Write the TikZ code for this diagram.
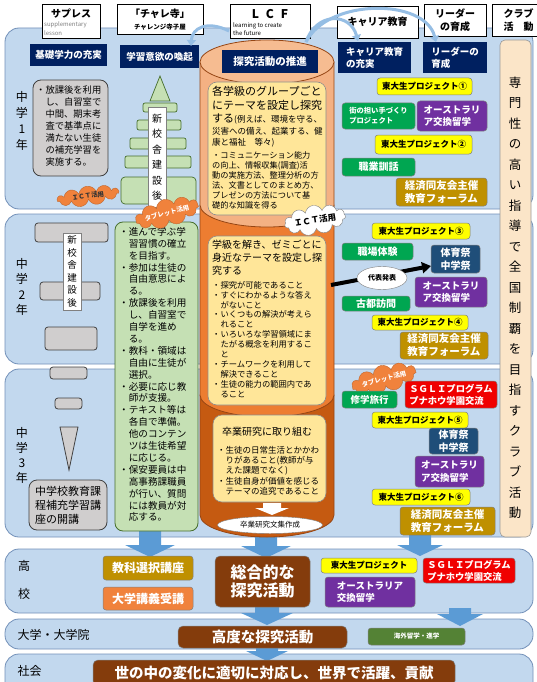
\documentclass[tikz,border=0pt]{standalone}
\usepackage{fontspec}
\setmainfont{Noto Sans CJK JP}
\usetikzlibrary{shapes.geometric,shapes.symbols,arrows.meta}
\definecolor{panel}{RGB}{194,216,238}
\definecolor{panelb}{RGB}{115,145,185}
\definecolor{navy}{RGB}{0,32,96}
\definecolor{greyf}{RGB}{208,206,206}
\definecolor{lgreen}{RGB}{197,224,180}
\definecolor{dgreen}{RGB}{70,110,45}
\definecolor{salmon}{RGB}{244,177,131}
\definecolor{salmontop}{RGB}{246,188,145}
\definecolor{orangeb}{RGB}{237,125,49}
\definecolor{rust}{RGB}{197,90,17}
\definecolor{cylb}{RGB}{150,70,20}
\definecolor{lyellow}{RGB}{255,230,153}
\definecolor{yel}{RGB}{255,255,0}
\definecolor{grn}{RGB}{0,166,81}
\definecolor{purp}{RGB}{112,48,160}
\definecolor{gold}{RGB}{191,144,0}
\definecolor{redc}{RGB}{240,0,0}
\definecolor{dblue}{RGB}{31,78,121}
\definecolor{brownc}{RGB}{132,60,12}
\definecolor{orng}{RGB}{240,130,60}
\definecolor{cream}{RGB}{251,229,200}
\definecolor{arrowblue}{RGB}{91,155,213}
\definecolor{olive}{RGB}{84,130,53}
\definecolor{lblue}{RGB}{150,190,228}
\newcommand\fs[2]{\fontsize{#1}{#2}\selectfont}
\newcommand\bx[7]{\node[#2,minimum width={(#5)-(#3)},minimum height={(#6)-(#4)}] (#1) at ({((#3)+(#5))/2},{((#4)+(#6))/2}) {#7};}
\newcommand\barrow[6]{\fill[arrowblue] ({#1-#5},#2) -- ({#1+#5},#2) -- ({#1+#5},#3) -- ({#1+#6},#3) -- (#1,#4) -- ({#1-#6},#3) -- ({#1-#5},#3) -- cycle;}
\newcommand\cylseg[3]{\draw[draw=cylb,line width=0.8pt,fill=#3] (200,#1) -- (200,#2) arc[start angle=180,end angle=0,x radius=67,y radius=22] -- (334,#1) -- cycle;}
\begin{document}
\begin{tikzpicture}[x=1pt,y=-1pt,
 txt/.style={anchor=north west,align=left,inner sep=0pt},
 panelst/.style={draw=panelb,fill=panel,rounded corners=14pt,line width=0.8pt},
 hdr/.style={draw=black,fill=white,line width=0.6pt,inner sep=0pt,align=center},
 navybox/.style={fill=navy,text=white,inner sep=1pt,align=center,font=\bfseries\fs{9.5}{12}},
 greyst/.style={draw=black!75,fill=greyf,line width=0.8pt},
 towerst/.style={draw=dgreen,fill=lgreen,line width=0.7pt},
 ybox/.style={draw=black!45,fill=lyellow,rounded corners=9pt,line width=0.6pt},
 item/.style={inner sep=1pt,align=center,rounded corners=3pt,draw=black!50,line width=0.5pt},
 yitem/.style={item,fill=yel,text=black,font=\bfseries\fs{8.5}{10}},
 gitem/.style={item,fill=grn,text=white,font=\bfseries\fs{10}{12}},
 pitem/.style={item,fill=purp,text=white,align=left,font=\bfseries\fs{9.5}{12.5}},
 golditem/.style={item,fill=gold,text=white,align=left,font=\bfseries\fs{10.5}{13}},
 ritem/.style={item,fill=redc,text=white,align=left,font=\bfseries\fs{9.3}{12}},
 bitem/.style={item,fill=dblue,text=white,font=\bfseries\fs{10}{12.5}},
 brownbox/.style={item,fill=brownc,text=white,rounded corners=5pt},
 vlabel/.style={draw=black!50,fill=white,inner sep=1pt,align=center},
 orcloud/.style={cloud,cloud puffs=11,aspect=4.5,fill=orng,draw=orng!80!black,inner sep=0pt},
 toparr/.style={draw=lblue,line width=3pt,-{Triangle[width=9pt,length=6pt]}}
]
\path[use as bounding box,fill=white] (0,0) rectangle (537,682);

% panels
\bx{p1}{panelst}{5}{28}{533}{209}{}
\bx{p2}{panelst}{5}{214}{533}{364}{}
\bx{p3}{panelst}{5}{369}{533}{537}{}
\bx{phs}{panelst}{5}{549}{533}{613}{}
\bx{puni}{panelst}{5}{619}{533}{649}{}
\bx{psoc}{panelst}{5}{654}{533}{700}{}

% block arrows
\barrow{150}{528}{545}{557}{11}{25}
\barrow{266}{536}{546}{558}{11}{25}
\barrow{420}{530}{545}{556}{11}{23}
\barrow{267}{606}{613}{625}{12}{26}
\barrow{460}{608}{614}{626}{11}{23}
\barrow{267}{646}{651}{661}{11}{21}

% headers
\bx{hsup}{hdr}{42}{4}{100}{38}{}
\node[font=\bfseries\fs{10}{12}] (hsupt) at (71,14) {サプレス};
\node[font=\fs{6}{6},text=gray,anchor=west,inner sep=0pt] (hsupa) at (44,25) {supplementary};
\node[font=\fs{6}{6},text=gray,anchor=west,inner sep=0pt] (hsupb) at (44,33) {lesson};
\bx{hchare}{hdr}{117}{4}{203}{34}{}
\node[font=\bfseries\fs{10}{12}] (hcharet) at (160,14) {「チャレ寺」};
\node[font=\bfseries\fs{6.5}{8}] (hchares) at (160,27) {チャレンジ寺子屋};
\bx{hlcf}{hdr}{230}{4}{310}{38}{}
\node[font=\bfseries\fs{12}{14}] (hlcft) at (270,14) {L\hspace{7pt}C\hspace{7pt}F};
\node[font=\fs{6}{7},anchor=west,inner sep=0pt] (hlcfa) at (233,26) {learning to create};
\node[font=\fs{6}{7},anchor=west,inner sep=0pt] (hlcfb) at (233,33) {the future};
\bx{hcar}{hdr,font=\bfseries\fs{10}{12}}{337}{6}{418}{38}{キャリア教育}
\bx{hlead}{hdr,font=\bfseries\fs{10}{12.5}}{424}{4}{486}{36}{リーダー\\の育成}
\bx{hclub}{hdr,font=\bfseries\fs{10}{12.5}}{492}{4}{545}{36}{クラブ\\活　動}

% navy boxes
\bx{n1}{navybox}{30}{44}{107}{66}{基礎学力の充実}
\bx{n2}{navybox}{120}{45}{199}{68}{学習意欲の喚起}
\bx{n4}{navybox,align=left}{338}{42}{411}{73}{キャリア教育\\の充実}
\bx{n5}{navybox,align=left}{423}{42}{487}{73}{リーダーの\\育成}

% year labels
\node[font=\fs{12}{16},align=center] (y1) at (22,121) {中\\学\\1\\年};
\node[font=\fs{12}{15.5},align=center] (y2) at (22,287) {中\\学\\2\\年};
\node[font=\fs{12}{15},align=center] (y3) at (22,455) {中\\学\\3\\年};

% column 1
\bx{g0}{greyst,rounded corners=8pt}{33}{80}{108}{176}{}
\node[txt,font=\fs{9.3}{12}] (g0t) at (36,85) {・放課後を利用\\　し、自習室で\\　中間、期末考\\　査で基準点に\\　満たない生徒\\　の補充学習を\\　実施する。};
\bx{g1}{greyst,rounded corners=3pt}{35}{223}{108}{242}{}
\bx{g2}{greyst,rounded corners=3pt}{40}{282}{100}{300}{}
\bx{g3}{greyst,rounded corners=3pt}{45}{327}{97}{350}{}
\bx{lab2}{vlabel,font=\fs{9.5}{12.6}}{63}{233}{81}{310}{新\\校\\舎\\建\\設\\後}
\bx{g4}{greyst,rounded corners=3pt}{50}{367}{87}{379}{}
\bx{g5}{greyst,rounded corners=3pt}{55}{398}{82}{409}{}
\draw[greyst] (60,427) -- (78,427) -- (69,470) -- cycle;
\bx{g6}{greyst,rounded corners=8pt,align=left,font=\fs{11}{14}}{29}{480}{107}{530}{中学校教育課\\程補充学習講\\座の開講}

% column 2 tower
\draw[towerst] (160,76) -- (170,101) -- (150,101) -- cycle;
\bx{t1}{towerst,rounded corners=2pt}{143}{103}{177}{112}{}
\bx{t2}{towerst,rounded corners=2pt}{137}{120}{181}{130}{}
\bx{t3}{towerst,rounded corners=2pt}{130}{138}{186}{149}{}
\bx{t4}{towerst,rounded corners=2pt}{125}{156}{191}{168}{}
\bx{t5}{towerst,rounded corners=4pt}{121}{177}{196}{204}{}
\bx{lab1}{vlabel,font=\fs{10}{15.5}}{148}{107}{166}{207}{新\\校\\舎\\建\\設\\後}
\bx{gb}{draw=dgreen,fill=lgreen,line width=0.8pt,rounded corners=8pt}{115}{222}{198}{531}{}
\node[txt,font=\fs{9.6}{11.9}] (gbt) at (119,227) {・進んで学ぶ学\\　習習慣の確立\\　を目指す。\\・参加は生徒の\\　自由意思によ\\　る。\\・放課後を利用\\　し、自習室で\\　自学を進め\\　る。\\・教科・領域は\\　自由に生徒が\\　選択。\\・必要に応じ教\\　師が支援。\\・テキスト等は\\　各自で準備。\\　他のコンテン\\　ツは生徒希望\\　に応じる。\\・保安要員は中\\　高事務課職員\\　が行い、質問\\　には教員が対\\　応する。};

% cylinder
\cylseg{395}{515}{rust}
\cylseg{205}{395}{orangeb}
\cylseg{62}{205}{salmon}
\draw[draw=cylb,line width=0.8pt,fill=salmontop] (267,62) ellipse[x radius=67,y radius=22];
\bx{n3}{navybox,font=\bfseries\fs{10.5}{12}}{222}{50}{318}{73}{探究活動の推進}
\bx{yb1}{ybox}{208}{82}{326}{215}{}
\node[txt,font=\fs{11}{14}] (yb1a) at (212,86) {各学級のグループごと\\にテーマを設定し探究};
\node[txt,font=\fs{8.5}{11.5}] (yb1b) at (212,114) {{\fs{11}{11.5}する}(例えば、環境を守る、\\災害への備え、起業する、健\\康と福祉　等々)};
\node[txt,font=\fs{8.2}{10}] (yb1c) at (212,151) {・コミュニケーション能力\\の向上、情報収集(調査)活\\動の実施方法、整理分析の方\\法、文書としてのまとめ方、\\プレゼンの方法について基\\礎的な知識を得る};
\bx{yb2}{ybox}{208}{236}{326}{405}{}
\node[txt,font=\fs{10}{13}] (yb2a) at (212,240) {学級を解き、ゼミごとに\\身近なテーマを設定し探\\究する};
\node[txt,font=\fs{8.3}{9.9}] (yb2b) at (212,281) {・探究が可能であること\\・すぐにわかるような答え\\　がないこと\\・いくつもの解決が考えら\\　れること\\・いろいろな学習領域にま\\　たがる概念を利用するこ\\　と\\・チームワークを利用して\\　解決できること\\・生徒の能力の範囲内であ\\　ること};
\bx{yb3}{ybox}{213}{415}{326}{502}{}
\node[txt,font=\fs{10}{12}] (yb3a) at (222,427) {卒業研究に取り組む};
\node[txt,font=\fs{8.5}{10.3}] (yb3b) at (217,446) {・生徒の日常生活とかかわ\\　りがあること(教師が与\\　えた課題でなく)\\・生徒自身が価値を感じる\\　テーマの追究であること};
\fill[white] (263,503) -- (281,503) -- (281,508) -- (289,508) -- (272,515) -- (255,508) -- (263,508) -- cycle;
\node[ellipse,draw=black!50,fill=white,minimum width=105,minimum height=17,inner sep=0pt,font=\fs{7.5}{9}] (sotsu) at (270,525) {卒業研究文集作成};

% clouds
\node[cloud,cloud puffs=11,aspect=3.5,draw=black!50,fill=white,minimum width=58,minimum height=22,inner sep=0pt,rotate=9,font=\bfseries\fs{8.5}{10}] (ict2) at (315,220) {ＩＣＴ活用};
\node[orcloud,minimum width=62,minimum height=15,rotate=8,font=\bfseries\fs{6.5}{8},text=black!80] (ict1) at (88,196) {ＩＣＴ活用};
\node[orcloud,minimum width=62,minimum height=15,rotate=15,font=\bfseries\fs{6.5}{8},text=white] (tab1) at (167,213) {タブレット活用};
\node[orcloud,minimum width=66,minimum height=15,rotate=15,font=\bfseries\fs{6.5}{8},text=white] (tab2) at (384,379) {タブレット活用};

% club column
\bx{club}{draw=black!40,fill=cream,rounded corners=5pt,line width=0.6pt}{500}{40}{531}{537}{}
\node[font=\fs{12.5}{20.5},align=center] (clubt) at (515,298) {専\\門\\性\\の\\高\\い\\指\\導\\で\\全\\国\\制\\覇\\を\\目\\指\\す\\ク\\ラ\\ブ\\活\\動};

% right items year 1
\bx{todai1}{yitem}{377}{78}{472}{95}{東大生プロジェクト①}
\bx{machi}{gitem,align=left,font=\bfseries\fs{7.3}{10}}{342}{103}{415}{129}{街の担い手づくり\\プロジェクト}
\bx{aus1}{pitem}{417}{101}{487}{131}{オーストラリ\\ア交換留学}
\bx{todai2}{yitem}{375}{135}{472}{154}{東大生プロジェクト②}
\bx{shoku}{gitem}{342}{158}{415}{176}{職業訓話}
\bx{forum1}{golditem}{396}{178}{487}{206}{経済同友会主催\\教育フォーラム}
% year 2
\bx{todai3}{yitem}{372}{223}{470}{239}{東大生プロジェクト③}
\bx{shokuba}{gitem}{342}{243}{413}{260}{職場体験}
\bx{taiiku1}{bitem}{431}{245}{480}{273}{体育祭\\中学祭}
\bx{aus2}{pitem}{415}{277}{487}{307}{オーストラリ\\ア交換留学}
\bx{koto}{gitem}{342}{296}{410}{311}{古都訪問}
\bx{todai4}{yitem}{372}{315}{468}{330}{東大生プロジェクト④}
\bx{forum2}{golditem}{400}{332}{488}{359}{経済同友会主催\\教育フォーラム}
\coordinate (cylR) at (331,285);
\coordinate (arrEnd) at (431,266);
\draw[line width=4pt,-{Triangle[length=9pt,width=11pt]}] (cylR) -- (arrEnd);
\node[ellipse,draw=black!50,fill=white,minimum width=50,minimum height=23,inner sep=0pt,font=\bfseries\fs{7}{8}] (daihyo) at (382,278) {代表発表};
% year 3
\bx{shugaku}{gitem,font=\bfseries\fs{9.5}{11}}{342}{391}{397}{408}{修学旅行}
\bx{sgli1}{ritem}{405}{381}{497}{408}{ＳＧＬＩプログラム\\プナホウ学園交流}
\bx{todai5}{yitem}{372}{412}{468}{428}{東大生プロジェクト⑤}
\bx{taiiku2}{bitem}{429}{428}{478}{454}{体育祭\\中学祭}
\bx{aus3}{pitem}{415}{456}{484}{487}{オーストラリ\\ア交換留学}
\bx{todai6}{yitem}{372}{489}{470}{505}{東大生プロジェクト⑥}
\bx{forum3}{golditem}{400}{507}{495}{535}{経済同友会主催\\教育フォーラム}

% top curved arrows
\coordinate (lcfL) at (229,31);
\coordinate (lcfR) at (306,42);
\coordinate (n2top) at (191,46);
\coordinate (n4top) at (358,41);
\coordinate (n5top) at (436,42);
\draw[toparr] (lcfL) .. controls (207,20) and (192,28) .. (n2top);
\draw[toparr] (lcfR) .. controls (316,12) and (350,12) .. (n4top);
\draw[toparr] (lcfR) .. controls (328,-2) and (425,-2) .. (n5top);

% high school
\node[font=\fs{12}{14}] (hs1) at (24,566) {高};
\node[font=\fs{12}{14}] (hs2) at (24,594) {校};
\bx{kyoka}{item,fill=gold,text=white,font=\bfseries\fs{12}{14}}{103}{556}{193}{580}{教科選択講座}
\bx{daikou}{item,fill=orng,text=white,font=\bfseries\fs{12}{14}}{103}{587}{193}{610}{大学講義受講}
\bx{sogo}{brownbox,font=\bfseries\fs{16}{18}}{215}{556}{310}{607}{総合的な\\探究活動}
\bx{todaiH}{yitem}{321}{558}{417}{573}{東大生プロジェクト}
\bx{ausH}{pitem}{325}{577}{415}{607}{オーストラリア\\交換留学}
\bx{sgliH}{ritem}{423}{558}{515}{583}{ＳＧＬＩプログラム\\プナホウ学園交流}
% university
\node[font=\fs{12}{14},anchor=west] (uni) at (14,635) {大学・大学院};
\bx{kodo}{brownbox,font=\bfseries\fs{14.5}{16}}{178}{626}{347}{648}{高度な探究活動}
\bx{kaigai}{item,fill=olive,text=white,font=\bfseries\fs{6.5}{8}}{368}{628}{465}{645}{海外留学・進学}
% society
\node[font=\fs{12}{14},anchor=west] (soc) at (14,671) {社会};
\bx{yononaka}{brownbox,font=\bfseries\fs{14.5}{16}}{93}{660}{455}{686}{世の中の変化に適切に対応し、世界で活躍、貢献}
\end{tikzpicture}
\end{document}
